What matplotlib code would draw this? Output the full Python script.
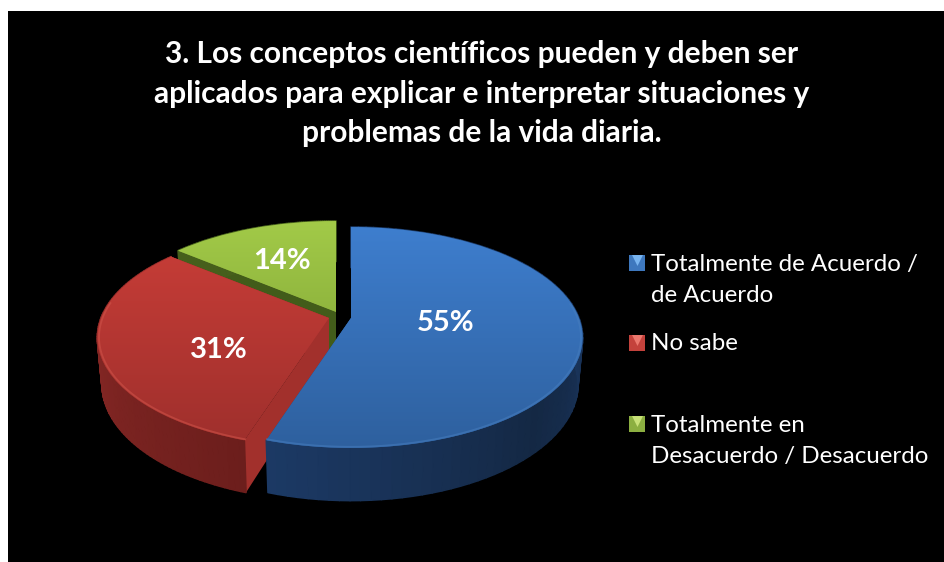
import numpy as np
import matplotlib
matplotlib.use("Agg")
import matplotlib.pyplot as plt
from matplotlib.collections import PolyCollection
from matplotlib.patches import Rectangle, Polygon
from matplotlib.transforms import Transform

title = "3. Los conceptos científicos pueden y deben ser\naplicados para explicar e interpretar situaciones y\nproblemas de la vida diaria."
categories = ["Totalmente de Acuerdo /\nde Acuerdo", "No sabe", "Totalmente en\nDesacuerdo / Desacuerdo"]
values = [55, 31, 14]

apexes = [(351, 318), (329, 318), (336, 312)]
label_xy = [(446, 323), (219, 350), (282, 261)]
legend_y = [262, 342, 423]
top_cols = [((62, 126, 206), (46, 96, 158)), ((202, 62, 56), (158, 47, 44)), ((162, 202, 72), (118, 152, 48))]
side_cols = [((28, 58, 102), (20, 40, 68)), ((152, 46, 43), (108, 30, 28)), ((70, 95, 28), (60, 85, 25))]
face_cols = [(28, 58, 102), (162, 48, 44), (66, 92, 26)]
rim_cols = [(70, 125, 190), (208, 84, 74), (170, 205, 90)]
leg_cols = [((120, 180, 240), (62, 120, 190), (36, 78, 130)),
            ((235, 120, 110), (196, 66, 60), (140, 40, 38)),
            ((200, 225, 120), (140, 175, 65), (95, 125, 40))]

A, B, K = 228.0, 107.0, 0.1765
D, SHR = 45.5, 0.02


class Persp(Transform):
    input_dims = output_dims = 2
    is_separable = False
    has_inverse = False

    def __init__(self, apex, z=0.0):
        super().__init__()
        self.apex, self.z = apex, z

    def transform_non_affine(self, values):
        v = np.asarray(values, float)
        x, y = v[:, 0], v[:, 1]
        w = 1 + K * y
        s = 1 - SHR * self.z
        return np.column_stack([self.apex[0] + A * x * s / w,
                                self.apex[1] - B * y * s / w + self.z * D / w])


def c(rgb):
    return tuple(np.array(rgb) / 255)


plt.rcParams["font.family"] = ["Lato", "DejaVu Sans"]
fig = plt.figure(figsize=(9.45, 5.62), dpi=100, facecolor="white")
ax = fig.add_axes([0, 0, 1, 1])

wedges, _ = ax.pie(values, startangle=90, counterclock=False, radius=1, center=(0, 0),
                   wedgeprops=dict(linewidth=0))
ax.set_aspect("auto")
ax.add_patch(Rectangle((8, 11), 937, 551, facecolor="black", edgecolor="none", zorder=0))


def unit(theta):
    return np.column_stack([np.cos(np.radians(theta)), np.sin(np.radians(theta))])


for idx in [2, 1, 0]:
    w = wedges[idx]
    base = {2: 1, 1: 5, 0: 9}[idx]
    top = Persp(apexes[idx], 0.0)
    bot = Persp(apexes[idx], 1.0)
    t1, t2 = w.theta1, w.theta2
    # cut faces
    o = np.zeros((1, 2))
    for ang in (t1, t2):
        a_t, r_t = top.transform_non_affine(o), top.transform_non_affine(unit([ang]))
        a_b, r_b = bot.transform_non_affine(o), bot.transform_non_affine(unit([ang]))
        ax.add_patch(Polygon(np.vstack([a_t, r_t, r_b, a_b]), closed=True,
                             facecolor=c(face_cols[idx]), edgecolor="none", zorder=base))
    # outer side strips
    th = np.linspace(t1, t2, 90)
    pt, pb = top.transform_non_affine(unit(th)), bot.transform_non_affine(unit(th))
    quads = [np.array([pt[i], pt[i + 1], pb[i + 1], pb[i]]) for i in range(len(th) - 1)]
    mid = 0.5 * (th[:-1] + th[1:])
    c0, c1 = np.array(side_cols[idx]) / 255
    if idx == 1:
        f = (mid - t1) / (t2 - t1)
    elif idx == 0:
        f = 1 - np.clip(np.abs(mid + 45) / 65, 0, 1)
    else:
        f = np.zeros_like(mid)
    cols = [c0 + (c1 - c0) * q for q in f]
    ax.add_collection(PolyCollection(quads, facecolors=cols, edgecolors=cols, linewidths=1.2, zorder=base + 0.5))
    # top face
    w.set_transform(top + ax.transData)
    w.set_facecolor(c(top_cols[idx][1]))
    w.set_zorder(base + 1)
    g = np.linspace(0, 1, 256)[:, None, None]
    grad = (np.array(top_cols[idx][0]) + (np.array(top_cols[idx][1]) - np.array(top_cols[idx][0])) * g) / 255
    y_t = apexes[idx][1] - 91
    y_b = apexes[idx][1] + 131
    im = ax.imshow(grad, extent=(90, 590, y_b, y_t), aspect="auto", origin="upper", zorder=base + 1.1)
    im.set_clip_path(w)
    # bevel on the near rim
    front = th[np.sin(np.radians(th)) < 0.15]
    if len(front):
        r = top.transform_non_affine(unit(front) * 0.993)
        ax.plot(r[:, 0], r[:, 1], color=c(rim_cols[idx]), lw=1.3, alpha=0.55, zorder=base + 1.2)

for v, xy in zip(values, label_xy):
    ax.text(xy[0], xy[1], f"{v}%", color="white", fontsize=21, fontweight="bold",
            ha="center", va="center", zorder=20)

ax.text(482, 93.5, title, color="white", fontsize=21.5, fontweight="bold", ha="center", va="center",
        linespacing=1.51, zorder=20)

for cat, y, lc in zip(categories, legend_y, leg_cols):
    ax.scatter([636.5], [y + 0.5], marker="s", s=117, color=c(lc[1]), linewidths=0, zorder=20)
    ax.scatter([636.5], [y - 2.5], marker="v", s=62, color=c(lc[0]), linewidths=0, zorder=21)
    ax.text(651, y - 8.5, cat, color="white", fontsize=17.4, ha="left", va="top", linespacing=1.64, zorder=20)

ax.set_xlim(0, 945)
ax.set_ylim(562, 0)
ax.set_xticks([])
ax.set_yticks([])
ax.set_frame_on(False)
fig.savefig("out.png", dpi=100, facecolor="white")
